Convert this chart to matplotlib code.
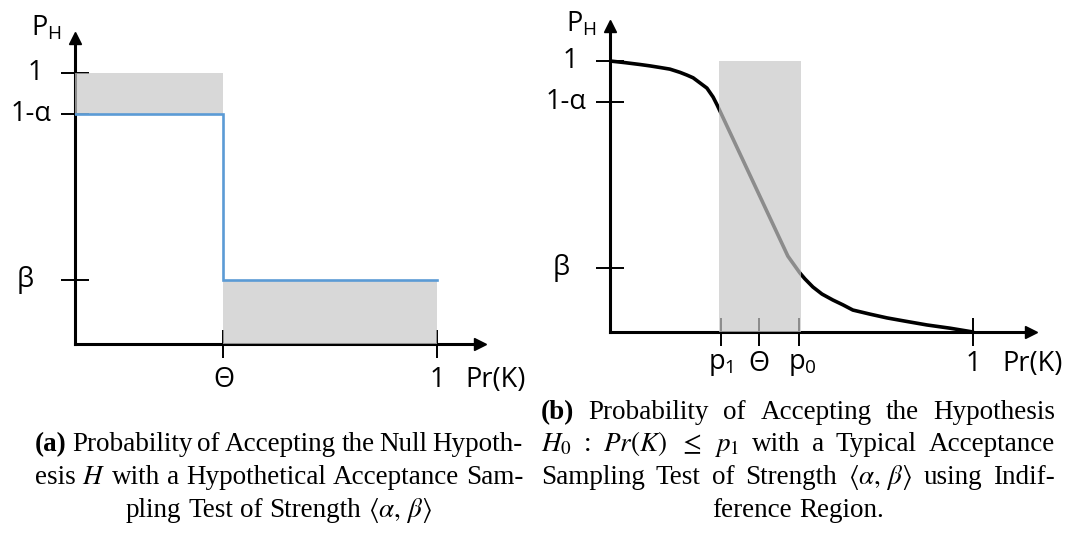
import matplotlib
matplotlib.use('Agg')
import matplotlib.pyplot as plt
from matplotlib.patches import Rectangle

W, H = 1075, 556
plt.rcParams['font.family'] = ['Open Sans', 'DejaVu Sans']
plt.rcParams['mathtext.fontset'] = 'custom'
plt.rcParams['mathtext.rm'] = 'Open Sans'

# --- data (a): ideal step test ---
theta_a = 0.41
one_minus_alpha = 0.85
beta = 0.236
step_x = [0.0, theta_a, theta_a, 1.0]
step_y = [one_minus_alpha, one_minus_alpha, beta, beta]

# --- data (b): typical OC curve with indifference region ---
p1, theta_b, p0 = 0.306, 0.41, 0.521
region = (0.300, 0.526)
curve_x = [0.0, 0.041, 0.083, 0.110, 0.138, 0.165, 0.193, 0.212, 0.229, 0.248,
           0.267, 0.284, 0.295, 0.49, 0.523, 0.537, 0.559, 0.584, 0.614, 0.642,
           0.669, 0.716, 0.763, 0.813, 0.873, 0.937, 1.0]
curve_y = [1.0, 0.994, 0.987, 0.982, 0.976, 0.970, 0.958, 0.948, 0.938, 0.919,
           0.900, 0.867, 0.838, 0.28, 0.218, 0.196, 0.166, 0.140, 0.118, 0.100,
           0.081, 0.066, 0.052, 0.040, 0.026, 0.014, 0.0]

ytick_labels = ['1', '1-α', 'β']

GRAY = '#c8c8c8'
FS = 19.5


def make_axes(fig, ox, oy, ux, uy, xmax, ymax):
    # ox, oy: pixel position of origin; ux, uy: pixels per data unit
    ax = fig.add_axes([ox / W, 1 - oy / H, ux * xmax / W, uy * ymax / H])
    ax.set_xlim(0, xmax)
    ax.set_ylim(0, ymax)
    for s in ['top', 'right']:
        ax.spines[s].set_visible(False)
    for s in ['left', 'bottom']:
        ax.spines[s].set_linewidth(2.2)
        ax.spines[s].set_color('black')
    ax.tick_params(direction='inout', length=20, width=1.4, color='black',
                   labelbottom=False, labelleft=False)
    ax.plot(1, 0, '>k', ms=9, transform=ax.get_yaxis_transform(), clip_on=False)
    ax.plot(0, 1, '^k', ms=9, transform=ax.get_xaxis_transform(), clip_on=False)
    ax.set_facecolor('none')
    return ax


def lab(ax, s, xy, off, ha='center', va='center', size=FS):
    ax.annotate(s, xy=xy, xytext=off, textcoords='offset pixels',
                ha=ha, va=va, fontsize=size, annotation_clip=False)


fig = plt.figure(figsize=(W / 100, H / 100), dpi=100)

# ---------------- panel (a) ----------------
axa = make_axes(fig, 75, 344, 362, 271, 1.12, 1.13)
axa.set_xticks([theta_a, 1.0])
axa.set_yticks([1.0, one_minus_alpha, beta])
axa.add_patch(Rectangle((0, one_minus_alpha), theta_a, 1 - one_minus_alpha,
                        facecolor=GRAY, alpha=0.7, lw=0, zorder=3, clip_on=False))
axa.add_patch(Rectangle((theta_a, 0), 1 - theta_a, beta,
                        facecolor=GRAY, alpha=0.7, lw=0, zorder=3, clip_on=False))
axa.plot(step_x, step_y, color='#5b9bd5', lw=1.9, zorder=4, solid_joinstyle='miter')

for v, s, dx in zip([1.0, one_minus_alpha, beta], ytick_labels, [-40, -44, -50]):
    lab(axa, s, (0, v), (dx, 0))
lab(axa, 'Θ', (theta_a, 0), (0, -36))
lab(axa, '1', (1.0, 0), (0, -36))
lab(axa, 'Pr(K)', (1.0, 0), (28, -36), ha='left')
axa.annotate(r'$\mathrm{P}_{\mathrm{H}}$', xy=(0, 1), xycoords='axes fraction',
             xytext=(-44, 2), textcoords='offset pixels', ha='left',
             va='baseline', fontsize=FS, annotation_clip=False)

# ---------------- panel (b) ----------------
axb = make_axes(fig, 610, 332, 363, 271, 1.16, 1.13)
axb.set_xticks([p1, theta_b, p0, 1.0])
axb.set_yticks([1.0, one_minus_alpha, beta])
axb.plot(curve_x, curve_y, color='black', lw=2.6, zorder=2,
         solid_capstyle='round', solid_joinstyle='round')
axb.add_patch(Rectangle((region[0], 0), region[1] - region[0], 1.0,
                        facecolor=GRAY, alpha=0.7, lw=0, zorder=3, clip_on=False))

for v, s, dx in zip([1.0, one_minus_alpha, beta], ytick_labels, [-40, -44, -49]):
    lab(axb, s, (0, v), (dx, 0))
lab(axb, r'$\mathrm{p}_{1}$', (p1, 0), (0, -32))
lab(axb, 'Θ', (theta_b, 0), (0, -32))
lab(axb, r'$\mathrm{p}_{0}$', (p0, 0), (3, -32))
lab(axb, '1', (1.0, 0), (0, -32))
lab(axb, 'Pr(K)', (1.0, 0), (29, -32), ha='left')
axb.annotate(r'$\mathrm{P}_{\mathrm{H}}$', xy=(0, 1), xycoords='axes fraction',
             xytext=(-44, -6), textcoords='offset pixels', ha='left',
             va='baseline', fontsize=FS, annotation_clip=False)

# ---------------- captions ----------------
renderer = fig.canvas.get_renderer()
CFS = 19.5
cap_kw = dict(fontsize=CFS, family=['Liberation Serif', 'DejaVu Serif'],
              math_fontfamily='stix', va='baseline', ha='left')


def place_line(words, x0, x1, yb, center=False):
    texts = []
    for w in words:
        bold = w.startswith('*')
        t = fig.text(0, 1 - yb / H, w.lstrip('*'),
                     fontweight='bold' if bold else 'normal', **cap_kw)
        texts.append(t)
    widths = [t.get_window_extent(renderer).width for t in texts]
    total = sum(widths)
    if center:
        gap = 0.25 * CFS * 100 / 72
        start = (x0 + x1) / 2 - (total + gap * (len(words) - 1)) / 2
    else:
        gap = (x1 - x0 - total) / (len(words) - 1)
        start = x0
    x = start
    for t, w in zip(texts, widths):
        t.set_x(x / W)
        x += w + gap


ang = r'$\langle\alpha,\,\beta\rangle$'
cap_a = [
    ['*(a)', 'Probability', 'of', 'Accepting', 'the', 'Null', 'Hypoth-'],
    ['esis', '$H$', 'with', 'a', 'Hypothetical', 'Acceptance', 'Sam-'],
    ['pling', 'Test', 'of', 'Strength', ang],
]
cap_b = [
    ['*(b)', 'Probability', 'of', 'Accepting', 'the', 'Hypothesis'],
    ['$H_0$', ':', '$Pr(K)$', r'$\leq$', '$p_1$', 'with', 'a', 'Typical', 'Acceptance'],
    ['Sampling', 'Test', 'of', 'Strength', ang, 'using', 'Indif-'],
    ['ference', 'Region.'],
]
base_b = [419, 451, 484, 517]
base_a = base_b[1:]
for i, words in enumerate(cap_a):
    place_line(words, 35, 523, base_a[i], center=(i == len(cap_a) - 1))
for i, words in enumerate(cap_b):
    place_line(words, 541, 1055, base_b[i], center=(i == len(cap_b) - 1))

fig.savefig('out.png', dpi=100)
